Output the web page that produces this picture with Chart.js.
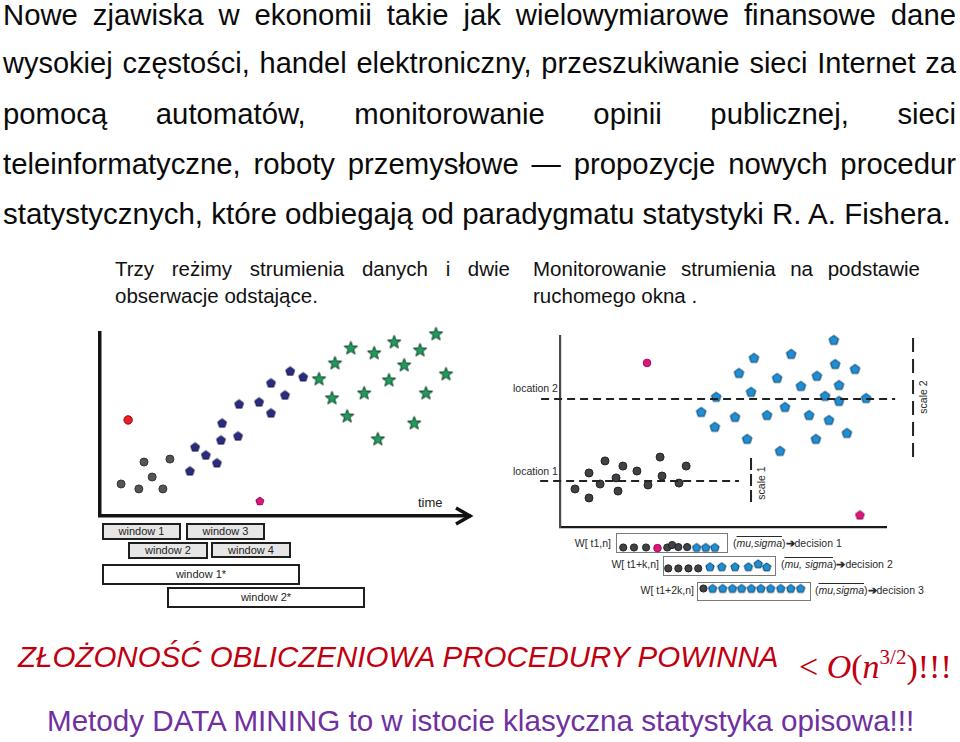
<!DOCTYPE html>
<html>
<head>
<meta charset="utf-8">
<script src="https://cdn.jsdelivr.net/npm/chart.js@4.4.1/dist/chart.umd.min.js"></script>
<style>
body { margin: 0; background: #fff; font-family: "Liberation Sans", Arial, sans-serif; }
#page { position: relative; width: 960px; height: 742px; overflow: hidden; background: #fff; }
.abs { position: absolute; white-space: nowrap; }
.line { position: absolute; left: 3px; width: 953px; font-size: 29.3px; line-height: 29px; color: #0a0a0a;
        text-align: justify; text-align-last: justify; }
.sub { position: absolute; font-size: 20.5px; line-height: 20.5px; color: #111; }
.just { text-align: justify; text-align-last: justify; }
.win { position: absolute; box-sizing: border-box; border: 2px solid #1e1e1e; background: #e6e6e6;
       font-size: 11px; color: #222; text-align: center; }
.win.big { background: #fff; }
.wbox { position: absolute; box-sizing: border-box; border: 1px solid #7a7a7a; background: #fff; }
.small { position: absolute; font-size: 10.5px; color: #2a2a2a; white-space: nowrap; }
.rot { position: absolute; font-size: 10.5px; color: #2a2a2a; white-space: nowrap;
       transform: translate(-50%, -50%) rotate(-90deg); }
canvas { position: absolute; }
</style>
</head>
<body>
<div id="page">
  <div class="line" style="top:-0.5px">Nowe zjawiska w ekonomii takie jak wielowymiarowe finansowe dane</div>
  <div class="line" style="top:49.3px;font-size:29px">wysokiej częstości, handel elektroniczny, przeszukiwanie sieci Internet za</div>
  <div class="line" style="top:99.1px">pomocą automatów, monitorowanie opinii publicznej, sieci</div>
  <div class="line" style="top:148.9px">teleinformatyczne, roboty przemysłowe — propozycje nowych procedur</div>
  <div class="line" style="top:198.7px;text-align-last:left;font-size:29.5px">statystycznych, które odbiegają od paradygmatu statystyki R. A. Fishera.</div>

  <div class="sub just" style="left:115px;width:395px;top:258.6px">Trzy reżimy strumienia danych i dwie</div>
  <div class="sub" style="left:115px;top:285.6px">obserwacje odstające.</div>
  <div class="sub just" style="left:533px;width:387px;top:258.6px">Monitorowanie strumienia na podstawie</div>
  <div class="sub" style="left:533px;top:285.6px">ruchomego okna .</div>

  <div class="win" style="left:102px;top:523px;width:79px;height:17px;line-height:13px">window 1</div>
  <div class="win" style="left:186px;top:523px;width:79px;height:17px;line-height:13px">window 3</div>
  <div class="win" style="left:128px;top:542px;width:80px;height:17px;line-height:13px">window 2</div>
  <div class="win" style="left:211px;top:542px;width:80px;height:16px;line-height:12px">window 4</div>
  <div class="win big" style="left:102px;top:564px;width:198px;height:21px;line-height:17px">window 1*</div>
  <div class="win big" style="left:167px;top:587px;width:198px;height:21px;line-height:17px">window 2*</div>

  <div class="wbox" style="left:616px;top:533px;width:112px;height:20px"></div>
  <div class="wbox" style="left:663px;top:556px;width:113px;height:20px"></div>
  <div class="wbox" style="left:697px;top:582px;width:114px;height:19px"></div>

  <div class="small" style="right:349px;top:537px">W[ t1,n]</div>
  <div class="small" style="right:301px;top:558px">W[ t1+k,n]</div>
  <div class="small" style="right:266px;top:584px">W[ t1+2k,n]</div>
  <div class="small" style="left:733px;top:537px">(<i style="text-decoration:overline">mu,sigma</i>)<b>➔</b>decision 1</div>
  <div class="small" style="left:781px;top:558px">(<i style="text-decoration:overline">mu, sigma</i>)<b>➔</b>decision 2</div>
  <div class="small" style="left:815px;top:584px">(<i style="text-decoration:overline">mu,sigma</i>)<b>➔</b>decision 3</div>

  <div class="small" style="left:513px;top:382px">location 2</div>
  <div class="small" style="left:513px;top:465px">location 1</div>
  <div class="rot" style="left:761px;top:483px">scale 1</div>
  <div class="rot" style="left:923px;top:397px">scale 2</div>
  <div class="abs" style="left:418px;top:495px;font-size:13px;color:#222">time</div>

  <canvas id="leftChart" width="395" height="230" style="left:90px;top:300px;width:395px;height:230px"></canvas>
  <canvas id="rightChart" width="460" height="215" style="left:500px;top:320px;width:460px;height:215px"></canvas>
  <canvas id="stripChart" width="460" height="94" style="left:500px;top:521px;width:460px;height:94px"></canvas>

  <div class="abs" style="left:18px;top:642px;font-size:29.5px;line-height:29px;font-style:italic;color:#c00010">ZŁOŻONOŚĆ OBLICZENIOWA PROCEDURY POWINNA</div>
  <div class="abs" style="left:799px;top:640px;font-family:'Liberation Serif',serif;font-size:34px;line-height:34px;color:#c00010">&lt; <i>O</i>(<i>n</i><sup style="font-size:21px;vertical-align:14px">3/2</sup>)!!!</div>
  <div class="abs" style="left:47px;top:706px;font-size:29.6px;line-height:29px;color:#7030a0">Metody DATA MINING to w istocie klasyczna statystyka opisowa!!!</div>
</div>

<script>
// left panel: three regimes of the stream + two outliers (time, value)
const regime1T = [5.7, 10.5, 11.9, 14.1, 17.0, 18.9];
const regime1V = [17.5, 14.8, 29.5, 21.3, 14.8, 31.1];
const regime2T = [24.3, 25.7, 28.6, 31.6, 32.7, 33.0, 37.3, 37.6, 43.0, 46.2, 46.2, 50.0, 51.4, 54.9];
const regime2V = [24.6, 37.7, 33.3, 29.0, 41.5, 50.8, 43.7, 61.2, 62.3, 56.3, 72.7, 66.1, 79.2, 76.0];
const regime3T = [59.2, 62.7, 63.5, 66.8, 67.8, 71.4, 74.1, 75.1, 75.9, 78.1, 79.5, 82.2, 84.9, 86.5, 88.1, 90.8, 93.5];
const regime3V = [74.9, 64.5, 83.6, 54.6, 91.8, 67.2, 89.1, 42.1, 108.2, 74.3, 95.1, 82.5, 50.8, 90.7, 67.2, 99.5, 77.6];
const outlierRedT = [7.6];
const outlierRedV = [52.5];
const outlierPinkT = [43.2];
const outlierPinkV = [8.2];

// right panel: low and high level of the stream
const streamLowT = [4.6, 8.9, 8.9, 12.3, 13.8, 17.2, 17.8, 19.3, 23.6, 27.0, 30.7, 31.3, 36.5, 38.7];
const streamLowV = [19.9, 15.2, 28.3, 22.5, 34.6, 25.7, 18.8, 31.9, 29.3, 22.0, 36.6, 26.7, 23.0, 31.9];
const streamHighT = [43.3, 47.5, 47.9, 53.7, 54.9, 57.4, 58.6, 59.5, 63.5, 66.6, 67.5, 69.0, 70.9,
                     73.9, 76.4, 78.5, 78.8, 81.3, 82.5, 84.0, 84.4, 85.6, 85.6, 88.0, 90.5, 93.9];
const streamHighV = [60.2, 52.4, 68.1, 57.6, 80.6, 46.1, 70.7, 88.5, 58.6, 78.0, 39.8, 62.8, 90.6,
                     73.8, 58.6, 46.1, 79.1, 68.6, 56.0, 97.9, 85.3, 74.3, 66.0, 49.2, 82.7, 67.5];
const outlierCircleT = [26.7];
const outlierCircleV = [85.9];
const outlierPentT = [92.0];
const outlierPentV = [6.3];
const location1 = 24.1;
const location2 = 67.0;
const location1Span = [-6.1, 54.9];
const location2Span = [-5.8, 102.8];
const scale1 = { t: 58.6, from: 13.1, to: 37.7 };
const scale2 = { t: 108.3, from: 36.6, to: 100 };

// moving windows (g = low level, m = outlier, b = high level)
const win1T = [19.4, 22.7, 26.4, 29.9, 32.9, 34.4, 36.3, 39.0, 41.9, 44.7, 47.5];
const win1Kind = ['g', 'g', 'g', 'm', 'g', 'g', 'g', 'g', 'b', 'b', 'b'];
const win1Row = [1, 1, 1, 1.03, 1, 0.88, 0.98, 0.98, 1, 1, 1];
const win2T = [33.2, 36.3, 39.4, 42.4, 46.0, 49.6, 53.7, 57.8, 60.8, 63.4];
const win2Kind = ['g', 'g', 'g', 'g', 'b', 'b', 'b', 'b', 'b', 'b'];
const win2Row = [2.02, 2.02, 2.02, 2.02, 1.94, 1.94, 1.94, 1.94, 1.8, 1.95];
const win3T = [44.0, 46.8, 49.9, 52.9, 55.7, 58.7, 61.6, 64.6, 67.7, 70.8, 73.8];
const win3Kind = ['g', 'b', 'b', 'b', 'b', 'b', 'b', 'b', 'b', 'b', 'b'];
const win3Row = [3, 3, 3, 3, 3, 3, 3, 3, 3, 3, 3];

const pts = (xs, ys) => xs.map((x, i) => ({ x: x, y: ys[i] }));

const polygonImg = (r, fill, stroke, star) => {
    const s = Math.ceil(r * 2 + 3);
    const c = document.createElement('canvas');
    c.width = s; c.height = s;
    const g = c.getContext('2d');
    const n = star ? 10 : 5;
    g.beginPath();
    for (let i = 0; i < n; i++) {
        const a = -Math.PI / 2 + i * 2 * Math.PI / n;
        const rr = star && i % 2 ? r * 0.42 : r;
        g.lineTo(s / 2 + rr * Math.cos(a), s / 2 + 0.3 + rr * Math.sin(a));
    }
    g.closePath();
    g.fillStyle = fill;
    g.fill();
    g.lineWidth = 1;
    g.strokeStyle = stroke;
    g.stroke();
    return c;
};

const navyPent = polygonImg(4.6, '#2b2b82', '#141440');
const pinkPentSmall = polygonImg(4.2, '#e0147c', '#8a0a4a');
const greenStar = polygonImg(7, '#1f9c5c', '#0e3f28', true);
const bluePent = polygonImg(5, '#1d8fd6', '#0b3c60');
const pinkPent = polygonImg(4.6, '#e0147c', '#8a0a4a');
const bluePentSmall = polygonImg(4.4, '#1d8fd6', '#0b3c60');

const hidden = {
    ticks: { display: false },
    grid: { display: false, drawTicks: false }
};

const baseOptions = (xmin, xmax, ymin, ymax, padding, borderX, borderY, reverseY) => ({
    responsive: false,
    animation: false,
    events: [],
    layout: { padding: padding },
    plugins: { legend: { display: false }, tooltip: { enabled: false } },
    scales: {
        x: Object.assign({ type: 'linear', min: xmin, max: xmax, border: borderX }, hidden),
        y: Object.assign({ type: 'linear', min: ymin, max: ymax, border: borderY, reverse: !!reverseY }, hidden)
    }
});

const arrowHead = {
    id: 'arrowHead',
    afterDraw(chart) {
        const ctx = chart.ctx;
        const x = chart.scales.x.getPixelForValue(100);
        const y = chart.scales.y.getPixelForValue(0);
        ctx.save();
        ctx.strokeStyle = '#111';
        ctx.lineWidth = 3.5;
        ctx.lineJoin = 'miter';
        ctx.beginPath();
        ctx.moveTo(x - 14, y - 8);
        ctx.lineTo(x, y);
        ctx.lineTo(x - 14, y + 8);
        ctx.stroke();
        ctx.restore();
    }
};

const circleSet = (data, r, fill, stroke) => ({
    data: data, pointStyle: 'circle', pointRadius: r, backgroundColor: fill,
    borderColor: stroke, borderWidth: 1, clip: false
});
const imgSet = (data, img) => ({
    data: data, pointStyle: img, pointRadius: 5, clip: false
});

new Chart(document.getElementById('leftChart'), {
    type: 'scatter',
    data: {
        datasets: [
            circleSet(pts(regime1T, regime1V), 4, '#555555', '#333333'),
            circleSet(pts(outlierRedT, outlierRedV), 4.2, '#e8202a', '#a00000'),
            imgSet(pts(regime2T, regime2V), navyPent),
            imgSet(pts(outlierPinkT, outlierPinkV), pinkPentSmall),
            imgSet(pts(regime3T, regime3V), greenStar)
        ]
    },
    options: baseOptions(0, 100, 0, 100, { left: 10, right: 15, top: 33, bottom: 14 },
        { display: true, width: 3.5, color: '#141414' },
        { display: true, width: 3.5, color: '#141414' }),
    plugins: [arrowHead]
});

const dashed = (data, dash) => ({
    data: data, showLine: true, pointRadius: 0, borderColor: '#222', borderWidth: 2,
    borderDash: dash, clip: false, fill: false
});

new Chart(document.getElementById('rightChart'), {
    type: 'scatter',
    data: {
        datasets: [
            dashed([{ x: location2Span[0], y: location2 }, { x: location2Span[1], y: location2 }], [8, 5]),
            dashed([{ x: location1Span[0], y: location1 }, { x: location1Span[1], y: location1 }], [8, 5]),
            dashed([{ x: scale1.t, y: scale1.from }, { x: scale1.t, y: scale1.to }], [12, 4]),
            dashed([{ x: scale2.t, y: scale2.from }, { x: scale2.t, y: scale2.to }], [14, 7]),
            circleSet(pts(streamLowT, streamLowV), 4, '#3f4347', '#222222'),
            circleSet(pts(outlierCircleT, outlierCircleV), 3.8, '#e0147c', '#9a0c55'),
            imgSet(pts(streamHighT, streamHighV), bluePent),
            imgSet(pts(outlierPentT, outlierPentV), pinkPent)
        ]
    },
    options: baseOptions(0, 100, 0, 100, { left: 60, right: 74, top: 16, bottom: 8 },
        { display: true, width: 2.2, color: '#1a1a1a' },
        { display: true, width: 2.2, color: '#4a4a4a' })
});

const stripPts = (ts, kinds, rows, kind) =>
    ts.map((t, i) => ({ x: t, y: rows[i], k: kinds[i] })).filter(p => p.k === kind);
const allStrip = kind => [].concat(
    stripPts(win1T, win1Kind, win1Row, kind),
    stripPts(win2T, win2Kind, win2Row, kind),
    stripPts(win3T, win3Kind, win3Row, kind));

// strip rows go top to bottom
new Chart(document.getElementById('stripChart'), {
    type: 'scatter',
    data: {
        datasets: [
            circleSet(allStrip('g'), 3.6, '#3f4347', '#222222'),
            circleSet(allStrip('m'), 3.8, '#e0147c', '#9a0c55'),
            imgSet(allStrip('b'), bluePentSmall)
        ]
    },
    options: baseOptions(0, 100, 0, 4, { left: 60, right: 74, top: 0, bottom: 0 },
        { display: false }, { display: false }, true)
});
</script>
</body>
</html>
